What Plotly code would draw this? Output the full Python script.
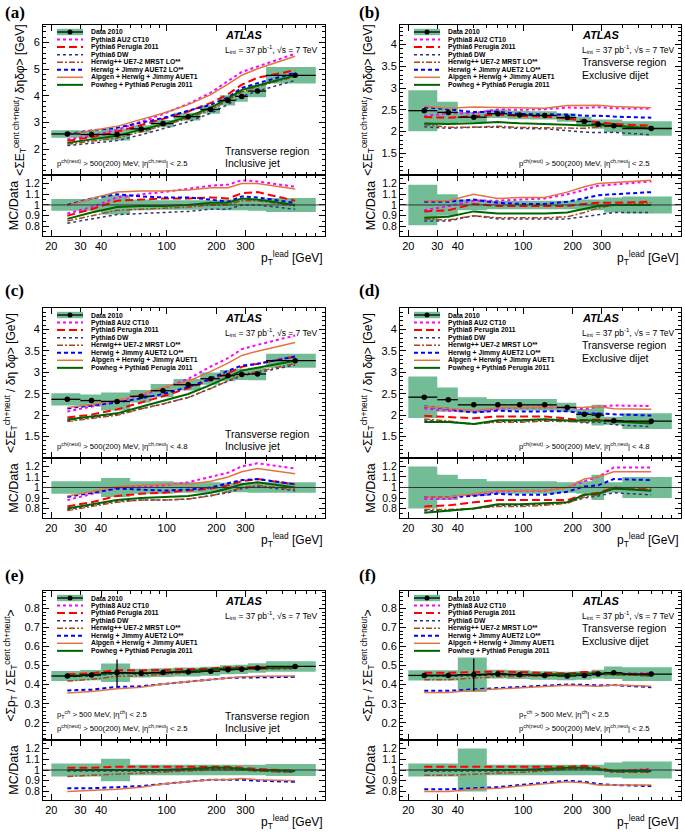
import math
import plotly.graph_objects as go

W, H = 685, 837
FONT = "Liberation Sans, Arial, sans-serif"
SERIF = "Liberation Serif, Times New Roman, serif"
GREEN_FILL = "#72bd95"

# -------------------------------------------------------
# Leading-jet pT binning (GeV)
# -------------------------------------------------------
PT_EDGES = [20, 30, 40, 60, 80, 110, 160, 210, 260, 310, 400, 800]
PT_CENTERS = [25, 35, 50, 70, 95, 135, 185, 235, 285, 355, 600]

MC_NAMES = [
    "Pythia8 AU2 CT10",
    "Pythia6 Perugia 2011",
    "Pythia6 DW",
    "Herwig++ UE7-2 MRST LO**",
    "Herwig + Jimmy AUET2 LO**",
    "Alpgen + Herwig + Jimmy AUET1",
    "Powheg + Pythia6 Perugia 2011",
]

MC_STYLE = {
    "Pythia8 AU2 CT10":              ("#ff00ff", "dot", 2.0),
    "Pythia6 Perugia 2011":          ("#ff0000", "8px,4px", 2.0),
    "Pythia6 DW":                    ("#333377", "dot", 1.5),
    "Herwig++ UE7-2 MRST LO**":      ("#a8481c", "6px,2px,2px,2px", 1.5),
    "Herwig + Jimmy AUET2 LO**":     ("#0000ff", "4px,3px", 2.0),
    "Alpgen + Herwig + Jimmy AUET1": ("#e0753f", "solid", 1.5),
    "Powheg + Pythia6 Perugia 2011": ("#006400", "solid", 2.0),
}

# -------------------------------------------------------
# (a) sum ET density, inclusive jet, |eta| < 2.5
# -------------------------------------------------------
A_DATA = [2.57, 2.55, 2.55, 2.76, 2.96, 3.22, 3.49, 3.83, 3.98, 4.18, 4.77]
A_SYST = [0.055, 0.055, 0.09, 0.05, 0.045, 0.045, 0.045, 0.05, 0.05, 0.055, 0.065]
A_STAT = [0.01, 0.01, 0.01, 0.01, 0.01, 0.01, 0.01, 0.02, 0.02, 0.03, 0.05]
A_RATIO = {
    "Pythia8 AU2 CT10":              [0.92, 0.98, 1.07, 1.10, 1.12, 1.15, 1.18, 1.19, 1.23, 1.22, 1.17],
    "Pythia6 Perugia 2011":          [0.90, 0.96, 1.04, 1.05, 1.06, 1.06, 1.07, 1.06, 1.11, 1.12, 1.04],
    "Pythia6 DW":                    [0.83, 0.87, 0.91, 0.92, 0.93, 0.94, 0.96, 0.96, 1.00, 1.00, 0.96],
    "Herwig++ UE7-2 MRST LO**":      [0.85, 0.90, 0.95, 0.96, 0.97, 0.98, 1.00, 1.00, 1.04, 1.04, 0.99],
    "Herwig + Jimmy AUET2 LO**":     [1.00, 1.06, 1.10, 1.08, 1.07, 1.07, 1.05, 1.03, 1.08, 1.07, 1.02],
    "Alpgen + Herwig + Jimmy AUET1": [0.99, 1.06, 1.12, 1.13, 1.13, 1.14, 1.16, 1.16, 1.20, 1.20, 1.15],
    "Powheg + Pythia6 Perugia 2011": [0.87, 0.93, 0.98, 0.99, 0.99, 1.00, 1.02, 1.02, 1.06, 1.05, 1.00],
}

# -------------------------------------------------------
# (b) sum ET density, exclusive dijet, |eta| < 2.5
# -------------------------------------------------------
B_DATA = [2.48, 2.44, 2.33, 2.41, 2.38, 2.37, 2.32, 2.23, 2.17, 2.13, 2.07]
B_SYST = [0.19, 0.10, 0.05, 0.04, 0.04, 0.04, 0.04, 0.05, 0.05, 0.07, 0.08]
B_STAT = [0.01, 0.01, 0.01, 0.01, 0.01, 0.01, 0.01, 0.02, 0.02, 0.03, 0.05]
B_RATIO = {
    "Pythia8 AU2 CT10":              [0.95, 0.99, 1.04, 1.04, 1.05, 1.06, 1.10, 1.14, 1.18, 1.19, 1.22],
    "Pythia6 Perugia 2011":          [0.94, 0.95, 1.01, 0.99, 0.99, 0.99, 0.99, 1.01, 1.02, 1.02, 1.03],
    "Pythia6 DW":                    [0.85, 0.85, 0.90, 0.87, 0.87, 0.87, 0.87, 0.89, 0.91, 0.93, 0.93],
    "Herwig++ UE7-2 MRST LO**":      [0.87, 0.86, 0.90, 0.88, 0.88, 0.88, 0.89, 0.93, 0.97, 1.00, 1.02],
    "Herwig + Jimmy AUET2 LO**":     [1.03, 1.03, 1.05, 1.02, 1.01, 1.01, 1.03, 1.06, 1.09, 1.10, 1.12],
    "Alpgen + Herwig + Jimmy AUET1": [1.04, 1.04, 1.10, 1.06, 1.07, 1.07, 1.12, 1.17, 1.20, 1.21, 1.23],
    "Powheg + Pythia6 Perugia 2011": [0.88, 0.89, 0.94, 0.92, 0.92, 0.92, 0.93, 0.96, 0.99, 1.00, 1.00],
}

# -------------------------------------------------------
# (c) sum ET density, inclusive jet, |eta| < 4.8
# -------------------------------------------------------
C_DATA = [2.37, 2.34, 2.32, 2.44, 2.57, 2.71, 2.85, 2.92, 2.95, 2.96, 3.27]
C_SYST = [0.06, 0.06, 0.09, 0.06, 0.06, 0.05, 0.05, 0.045, 0.045, 0.05, 0.05]
C_STAT = [0.01, 0.01, 0.01, 0.01, 0.01, 0.01, 0.01, 0.02, 0.02, 0.03, 0.04]
C_RATIO = {
    "Pythia8 AU2 CT10":              [0.88, 0.94, 1.00, 1.01, 1.02, 1.05, 1.10, 1.14, 1.20, 1.23, 1.18],
    "Pythia6 Perugia 2011":          [0.82, 0.86, 0.92, 0.94, 0.95, 0.97, 0.99, 1.02, 1.06, 1.08, 1.03],
    "Pythia6 DW":                    [0.79, 0.83, 0.87, 0.88, 0.88, 0.89, 0.92, 0.95, 0.99, 1.01, 0.97],
    "Herwig++ UE7-2 MRST LO**":      [0.78, 0.82, 0.86, 0.88, 0.88, 0.89, 0.92, 0.96, 1.00, 1.02, 0.98],
    "Herwig + Jimmy AUET2 LO**":     [0.91, 0.95, 0.99, 0.98, 0.97, 0.98, 1.00, 1.04, 1.07, 1.08, 1.03],
    "Alpgen + Herwig + Jimmy AUET1": [0.92, 0.96, 1.01, 1.02, 1.03, 1.03, 1.06, 1.10, 1.15, 1.18, 1.13],
    "Powheg + Pythia6 Perugia 2011": [0.80, 0.84, 0.88, 0.90, 0.91, 0.92, 0.95, 0.99, 1.03, 1.05, 1.00],
}

# -------------------------------------------------------
# (d) sum ET density, exclusive dijet, |eta| < 4.8
# -------------------------------------------------------
D_DATA = [2.42, 2.36, 2.24, 2.24, 2.24, 2.24, 2.18, 2.02, 2.00, 1.87, 1.86]
D_SYST = [0.20, 0.12, 0.08, 0.06, 0.06, 0.06, 0.05, 0.06, 0.12, 0.05, 0.10]
D_STAT = [0.01, 0.01, 0.01, 0.01, 0.01, 0.01, 0.01, 0.02, 0.02, 0.03, 0.04]
D_RATIO = {
    "Pythia8 AU2 CT10":              [0.89, 0.89, 0.93, 0.96, 0.97, 0.97, 1.00, 1.06, 1.10, 1.19, 1.19],
    "Pythia6 Perugia 2011":          [0.82, 0.83, 0.86, 0.88, 0.88, 0.88, 0.88, 0.93, 0.95, 1.00, 0.98],
    "Pythia6 DW":                    [0.78, 0.78, 0.80, 0.83, 0.83, 0.84, 0.86, 0.90, 0.92, 0.95, 0.93],
    "Herwig++ UE7-2 MRST LO**":      [0.79, 0.79, 0.80, 0.82, 0.82, 0.83, 0.85, 0.91, 0.93, 0.99, 0.98],
    "Herwig + Jimmy AUET2 LO**":     [0.91, 0.91, 0.92, 0.94, 0.93, 0.93, 0.96, 1.01, 1.02, 1.08, 1.07],
    "Alpgen + Herwig + Jimmy AUET1": [0.91, 0.91, 0.94, 0.97, 0.97, 0.97, 1.00, 1.08, 1.10, 1.15, 1.15],
    "Powheg + Pythia6 Perugia 2011": [0.76, 0.78, 0.80, 0.84, 0.84, 0.85, 0.86, 0.93, 0.94, 0.99, 0.97],
}

# -------------------------------------------------------
# (e) sum pT / sum ET, inclusive jet
# -------------------------------------------------------
E_DATA = [0.445, 0.450, 0.462, 0.460, 0.463, 0.466, 0.470, 0.478, 0.480, 0.487, 0.495]
E_SYST = [0.06, 0.06, 0.105, 0.05, 0.05, 0.05, 0.05, 0.05, 0.05, 0.05, 0.055]
E_STAT = [0.003, 0.003, 0.07, 0.003, 0.003, 0.003, 0.003, 0.004, 0.004, 0.005, 0.006]
E_RATIO = {
    "Pythia8 AU2 CT10":              [1.00, 1.00, 1.00, 1.00, 1.00, 1.01, 1.02, 1.02, 1.01, 1.00, 0.98],
    "Pythia6 Perugia 2011":          [1.02, 1.02, 1.03, 1.03, 1.03, 1.03, 1.03, 1.03, 1.02, 1.01, 0.99],
    "Pythia6 DW":                    [0.99, 0.99, 0.99, 0.99, 0.99, 1.00, 1.01, 1.01, 1.00, 0.99, 0.98],
    "Herwig++ UE7-2 MRST LO**":      [0.94, 0.95, 0.96, 0.97, 0.98, 0.99, 1.00, 1.00, 1.00, 0.99, 0.98],
    "Herwig + Jimmy AUET2 LO**":     [0.83, 0.83, 0.84, 0.85, 0.87, 0.89, 0.91, 0.91, 0.91, 0.90, 0.89],
    "Alpgen + Herwig + Jimmy AUET1": [0.80, 0.81, 0.82, 0.84, 0.87, 0.89, 0.91, 0.91, 0.92, 0.91, 0.90],
    "Powheg + Pythia6 Perugia 2011": [1.00, 1.00, 1.00, 1.00, 1.00, 1.01, 1.02, 1.02, 1.01, 1.00, 0.99],
}

# -------------------------------------------------------
# (f) sum pT / sum ET, exclusive dijet
# -------------------------------------------------------
F_DATA = [0.448, 0.448, 0.452, 0.455, 0.452, 0.448, 0.445, 0.448, 0.455, 0.462, 0.455]
F_SYST = [0.06, 0.06, 0.20, 0.05, 0.05, 0.05, 0.05, 0.05, 0.05, 0.07, 0.08]
F_STAT = [0.003, 0.003, 0.085, 0.004, 0.004, 0.004, 0.004, 0.005, 0.006, 0.012, 0.012]
F_RATIO = {
    "Pythia8 AU2 CT10":              [0.99, 1.00, 1.00, 1.00, 1.00, 1.01, 1.02, 1.03, 1.01, 0.99, 1.01],
    "Pythia6 Perugia 2011":          [1.03, 1.03, 1.03, 1.03, 1.03, 1.03, 1.03, 1.04, 1.02, 0.99, 1.00],
    "Pythia6 DW":                    [0.99, 0.99, 0.99, 0.99, 1.00, 1.00, 1.01, 1.01, 1.00, 0.98, 0.98],
    "Herwig++ UE7-2 MRST LO**":      [0.95, 0.95, 0.96, 0.97, 0.98, 0.99, 1.01, 1.02, 1.00, 0.98, 0.98],
    "Herwig + Jimmy AUET2 LO**":     [0.82, 0.82, 0.83, 0.84, 0.86, 0.88, 0.90, 0.89, 0.87, 0.86, 0.85],
    "Alpgen + Herwig + Jimmy AUET1": [0.80, 0.80, 0.82, 0.83, 0.85, 0.87, 0.89, 0.88, 0.86, 0.86, 0.86],
    "Powheg + Pythia6 Perugia 2011": [1.00, 1.00, 1.00, 1.00, 1.00, 1.01, 1.02, 1.02, 1.01, 0.99, 0.99],
}

# y tick values of the upper panels
Y_TICKS_ET = [1.5, 2, 2.5, 3, 3.5, 4]
Y_TICKS_A = [2, 3, 4, 5, 6]
Y_TICKS_PT = [0.2, 0.3, 0.4, 0.5, 0.6, 0.7, 0.8]
R_TICKS = [0.8, 0.9, 1.0, 1.1, 1.2]
R_LABELS = ["0.8", "0.9", "1", "1.1", "1.2"]
X_TICKS = [20, 30, 40, 100, 200, 300]
X_MINOR_TICKS = [50, 60, 70, 80, 90, 400, 500, 600, 700, 800, 900]

TITLE_ET_CENT = "&lt;ΣE<sub>T</sub><sup>cent ch+neut</sup>/ δηδφ&gt; [GeV]"
TITLE_ET = "&lt;ΣE<sub>T</sub><sup>ch+neut</sup> / δη δφ&gt; [GeV]"
TITLE_RATIO = "&lt;Σp<sub>T</sub> / ΣE<sub>T</sub><sup>cent ch+neut</sup>&gt;"
CUT_25 = "p<sup>ch(neut)</sup> &gt; 500(200) MeV, |η<sup>ch,neut</sup>| &lt; 2.5"
CUT_48 = "p<sup>ch(neut)</sup> &gt; 500(200) MeV, |η<sup>ch,neut</sup>| &lt; 4.8"
CUT_CH = "p<sub>T</sub><sup>ch</sup> &gt; 500 MeV, |η<sup>ch</sup>| &lt; 2.5"

PANELS = [
    dict(label="(a)", row=0, col=0, data=A_DATA, syst=A_SYST, stat=A_STAT, ratio=A_RATIO,
         yrange=[1.03, 6.66], yticks=Y_TICKS_A, minor=0.2, title=TITLE_ET_CENT,
         region="Inclusive jet", cuts=[CUT_25], rrange=[0.71, 1.28]),
    dict(label="(b)", row=0, col=1, data=B_DATA, syst=B_SYST, stat=B_STAT, ratio=B_RATIO,
         yrange=[1.0, 4.45], yticks=Y_TICKS_ET, minor=0.1, title=TITLE_ET_CENT,
         region="Exclusive dijet", cuts=[CUT_25], rrange=[0.71, 1.28]),
    dict(label="(c)", row=1, col=0, data=C_DATA, syst=C_SYST, stat=C_STAT, ratio=C_RATIO,
         yrange=[1.0, 4.5], yticks=Y_TICKS_ET, minor=0.1, title=TITLE_ET,
         region="Inclusive jet", cuts=[CUT_48], rrange=[0.71, 1.28]),
    dict(label="(d)", row=1, col=1, data=D_DATA, syst=D_SYST, stat=D_STAT, ratio=D_RATIO,
         yrange=[1.0, 4.5], yticks=Y_TICKS_ET, minor=0.1, title=TITLE_ET,
         region="Exclusive dijet", cuts=[CUT_48], rrange=[0.71, 1.28]),
    dict(label="(e)", row=2, col=0, data=E_DATA, syst=E_SYST, stat=E_STAT, ratio=E_RATIO,
         yrange=[0.11, 0.89], yticks=Y_TICKS_PT, minor=0.02, title=TITLE_RATIO,
         region="Inclusive jet", cuts=[CUT_CH, CUT_25], rrange=[0.72, 1.28]),
    dict(label="(f)", row=2, col=1, data=F_DATA, syst=F_SYST, stat=F_STAT, ratio=F_RATIO,
         yrange=[0.11, 0.89], yticks=Y_TICKS_PT, minor=0.02, title=TITLE_RATIO,
         region="Exclusive dijet", cuts=[CUT_CH, CUT_25], rrange=[0.72, 1.28]),
]

# pixel layout of the grid
COL_X = [(43, 325), (400, 681)]
ROW_Y = [(25, 175, 236), (308, 458, 518), (591, 740, 800)]
LABEL_Y = [12, 290, 575]
X_RANGE = [math.log10(17.8), math.log10(910)]


def px(p):
    return p / W


def py(p):
    return 1 - p / H


def ref(prefix, n):
    return prefix if n == 1 else f"{prefix}{n}"


def key(prefix, n):
    return f"{prefix}axis" if n == 1 else f"{prefix}axis{n}"


def box_polys(values, rel):
    xs, ys = [], []
    for lo, hi, v, e in zip(PT_EDGES[:-1], PT_EDGES[1:], values, rel):
        xs += [lo, hi, hi, lo, lo, None]
        ys += [v * (1 - e), v * (1 - e), v * (1 + e), v * (1 + e), v * (1 - e), None]
    return xs, ys


AXIS = dict(
    showline=True, linecolor="black", linewidth=1, mirror="allticks",
    ticks="inside", ticklen=6, tickcolor="black", showgrid=False, zeroline=False,
    tickfont=dict(family=FONT, size=11, color="black"),
)
X_MINOR = dict(ticks="inside", ticklen=3, tickcolor="black", showgrid=False,
               tickmode="array", tickvals=X_MINOR_TICKS)

fig = go.Figure()
layout = {}
shapes, annotations = [], []


def text(x, y, s, size, anchor="left", family=FONT):
    annotations.append(dict(
        x=px(x), y=py(y), xref="paper", yref="paper", text=s, showarrow=False,
        xanchor=anchor, yanchor="middle", font=dict(family=family, size=size, color="black"),
    ))


for i, p in enumerate(PANELS):
    nm, nr = 2 * i + 1, 2 * i + 2
    left, right = COL_X[p["col"]]
    top, mid, bot = ROW_Y[p["row"]]
    xdom = [px(left), px(right)]

    # ---- axes
    layout[key("x", nm)] = dict(AXIS, domain=xdom, type="log", range=X_RANGE, anchor=ref("y", nm),
                                tickvals=X_TICKS, showticklabels=False, minor=X_MINOR)
    layout[key("y", nm)] = dict(AXIS, domain=[py(mid), py(top)], range=p["yrange"], anchor=ref("x", nm),
                                tickvals=p["yticks"],
                                minor=dict(ticks="inside", ticklen=3, tickcolor="black", dtick=p["minor"],
                                           tick0=0, showgrid=False),
                                title=dict(text=p["title"], font=dict(family=FONT, size=12, color="black"), standoff=6))
    layout[key("x", nr)] = dict(AXIS, domain=xdom, type="log", range=X_RANGE, anchor=ref("y", nr),
                                tickvals=X_TICKS, ticktext=[str(v) for v in X_TICKS], minor=X_MINOR)
    layout[key("y", nr)] = dict(AXIS, domain=[py(bot), py(mid)], range=p["rrange"], anchor=ref("x", nr),
                                tickvals=R_TICKS, ticktext=R_LABELS,
                                tickfont=dict(family=FONT, size=10.5, color="black"),
                                minor=dict(ticks="inside", ticklen=3, tickcolor="black", dtick=0.05,
                                           tick0=0, showgrid=False),
                                title=dict(text="MC/Data", font=dict(family=FONT, size=12.5, color="black"), standoff=3))

    # ---- main panel: syst boxes, MC curves, data points
    bx, by = box_polys(p["data"], p["syst"])
    fig.add_trace(go.Scatter(x=bx, y=by, fill="toself", fillcolor=GREEN_FILL, mode="none",
                             xaxis=ref("x", nm), yaxis=ref("y", nm), hoverinfo="skip"))
    for name in MC_NAMES:
        color, dash, width = MC_STYLE[name]
        mc_vals = [d * r for d, r in zip(p["data"], p["ratio"][name])]
        fig.add_trace(go.Scatter(x=PT_CENTERS, y=mc_vals, mode="lines", name=name,
                                 line=dict(color=color, dash=dash, width=width),
                                 xaxis=ref("x", nm), yaxis=ref("y", nm)))
    fig.add_trace(go.Scatter(
        x=PT_CENTERS, y=p["data"], mode="markers", name="Data 2010",
        marker=dict(color="black", size=5.5),
        error_x=dict(type="data", symmetric=False,
                     array=[hi - c for hi, c in zip(PT_EDGES[1:], PT_CENTERS)],
                     arrayminus=[c - lo for lo, c in zip(PT_EDGES[:-1], PT_CENTERS)],
                     color="black", thickness=1.3, width=0),
        error_y=dict(type="data", array=p["stat"], color="black", thickness=1.3, width=0),
        xaxis=ref("x", nm), yaxis=ref("y", nm)))

    # ---- ratio panel
    rx, ry = box_polys([1.0] * len(PT_CENTERS), p["syst"])
    fig.add_trace(go.Scatter(x=rx, y=ry, fill="toself", fillcolor=GREEN_FILL, mode="none",
                             xaxis=ref("x", nr), yaxis=ref("y", nr), hoverinfo="skip"))
    shapes.append(dict(type="line", xref=f"{ref('x', nr)} domain", yref=ref("y", nr),
                       x0=0, x1=1, y0=1, y1=1, line=dict(color="#333333", width=1)))
    for name in MC_NAMES:
        color, dash, width = MC_STYLE[name]
        fig.add_trace(go.Scatter(x=PT_CENTERS, y=p["ratio"][name], mode="lines",
                                 line=dict(color=color, dash=dash, width=width),
                                 xaxis=ref("x", nr), yaxis=ref("y", nr)))

    # ---- legend (drawn by hand, ROOT style)
    lx0, lx1, ltx = left + 14, left + 40, left + 46
    rows = ["Data 2010"] + MC_NAMES
    for k, name in enumerate(rows):
        yy = top + 7 + 7.55 * k
        if name == "Data 2010":
            shapes.append(dict(type="rect", xref="paper", yref="paper", x0=px(lx0), x1=px(lx1),
                               y0=py(yy + 3.2), y1=py(yy - 3.2), fillcolor=GREEN_FILL, line=dict(width=0)))
            shapes.append(dict(type="line", xref="paper", yref="paper", x0=px(lx0), x1=px(lx1),
                               y0=py(yy), y1=py(yy), line=dict(color="black", width=1.3)))
            cx = (lx0 + lx1) / 2
            shapes.append(dict(type="circle", xref="paper", yref="paper", x0=px(cx - 2.5), x1=px(cx + 2.5),
                               y0=py(yy + 2.5), y1=py(yy - 2.5), fillcolor="black", line=dict(color="black", width=0)))
        else:
            color, dash, width = MC_STYLE[name]
            shapes.append(dict(type="line", xref="paper", yref="paper", x0=px(lx0), x1=px(lx1),
                               y0=py(yy), y1=py(yy), line=dict(color=color, dash=dash, width=width)))
        text(ltx, yy, f"<b>{name}</b>", 6.8)

    # ---- labels
    text(left - 40 if p["col"] == 0 else left - 43, LABEL_Y[p["row"]], f"<b>{p['label']}</b>", 17, family=SERIF)
    text(left + 180, top + 10, "<b><i>ATLAS</i></b>", 11)
    text(left + 180, top + 24, "L<sub>int</sub> = 37 pb<sup>-1</sup>, √s = 7 TeV", 8.5)
    if p["col"] == 0:
        text(left + 180, mid - 24, "Transverse region", 10.5)
        text(left + 180, mid - 12, p["region"], 10.5)
        cx0 = left + 12
    else:
        text(left + 180, top + 37, "Transverse region", 10.5)
        text(left + 180, top + 50, p["region"], 10.5)
        cx0 = left + 117
    for k, c in enumerate(reversed(p["cuts"])):
        text(cx0, mid - 12 - 14 * k, c, 7.7)
    annotations.append(dict(x=px(right), y=py(bot + 22), xref="paper", yref="paper",
                            text="p<sub>T</sub><sup>lead</sup> [GeV]", showarrow=False,
                            xanchor="right", yanchor="middle", font=dict(family=FONT, size=12, color="black")))

fig.update_layout(
    width=W, height=H, margin=dict(l=0, r=0, t=0, b=0),
    paper_bgcolor="white", plot_bgcolor="white", showlegend=False,
    font=dict(family=FONT, color="black"),
    shapes=shapes, annotations=annotations, **layout,
)

# the page body keeps its default 8px margin otherwise
fig.write_html("out.html", config={"displayModeBar": False},
               post_script="document.body.style.margin='0';")
